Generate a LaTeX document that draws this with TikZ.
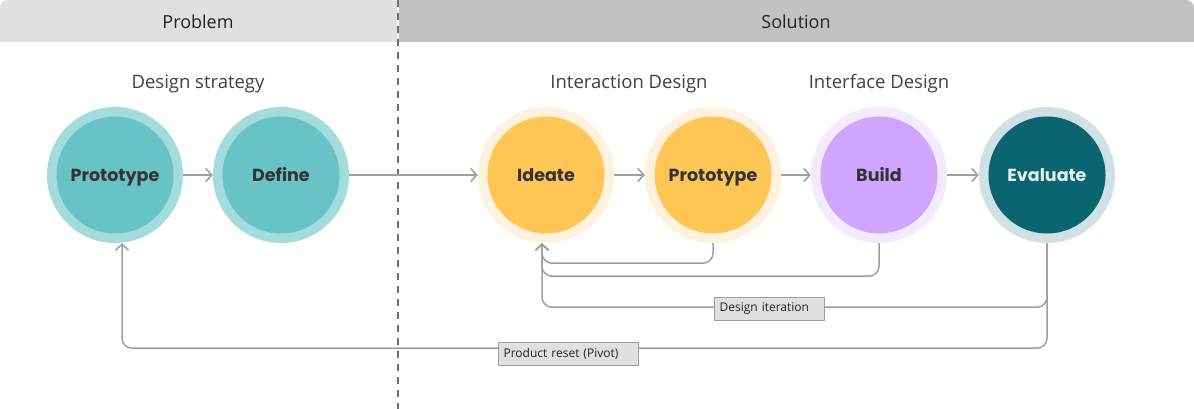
\documentclass[tikz,border=0pt]{standalone}
\usepackage{fontspec}
\setmainfont{Open Sans}
\newfontfamily\stagefont{Poppins}
\usetikzlibrary{arrows.meta}

\definecolor{problemgray}{HTML}{E0E0E0}
\definecolor{solutiongray}{HTML}{C2C2C2}
\definecolor{dividergray}{HTML}{6E6E6E}
\definecolor{headink}{HTML}{1F2328}
\definecolor{phaseink}{HTML}{404040}
\definecolor{stageink}{HTML}{333333}
\definecolor{paleink}{HTML}{E6EEEE}
\definecolor{tealouter}{HTML}{A2DCDD}
\definecolor{tealinner}{HTML}{68C3C7}
\definecolor{amberouter}{HTML}{FFF2DC}
\definecolor{amberinner}{HTML}{FFC555}
\definecolor{lilacouter}{HTML}{F3EAFF}
\definecolor{lilacinner}{HTML}{CFA6FF}
\definecolor{deepouter}{HTML}{CFE1E4}
\definecolor{deepinner}{HTML}{0A6570}
\definecolor{flowgray}{HTML}{9E9E9E}
\definecolor{tagfill}{HTML}{E0E0E0}

\begin{document}
\begin{tikzpicture}[x=1pt, y=-1pt,
	ring/.style={circle, minimum size=136pt, inner sep=0pt},
	core/.style={circle, minimum size=117pt, inner sep=0pt, text height=12.2pt, text depth=0pt, font=\stagefont\bfseries\fontsize{17.5}{20}\selectfont},
	header/.style={font=\fontsize{18}{21}\selectfont, text=headink, text height=12.9pt, text depth=0pt},
	phase/.style={font=\fontsize{18.5}{22}\selectfont, text=phaseink, text height=13.2pt, text depth=0pt},
	flow/.style={draw=flowgray, line width=1.5pt, -{Straight Barb[length=6pt, width=13pt]}},
	backflow/.style={flow, rounded corners=10pt},
	tag/.style={draw=flowgray, fill=tagfill, line width=1.2pt, font=\fontsize{12}{14}\selectfont, text=headink, align=left, inner xsep=5pt, minimum height=23pt, anchor=west}]
	\useasboundingbox (0,0) rectangle (1194,409);
	\fill[problemgray] (0,42) [rounded corners=8pt] -- (0,0) [sharp corners] -- (397,0) -- (397,42) -- cycle;
	\fill[solutiongray] (399,42) -- (399,0) [rounded corners=8pt] -- (1194,0) [sharp corners] -- (1194,42) -- cycle;
	\draw[dividergray, line width=2pt, dash pattern=on 7pt off 6pt] (398,0) -- (398,409);
	\node[header] (problem) at (198,22) {Problem};
	\node[header] (solution) at (796,22) {Solution};
	\node[phase] (strategy) at (198,82) {Design strategy};
	\node[phase] (interaction) at (629,82) {Interaction Design};
	\node[phase] (interface) at (879,82) {Interface Design};
	\foreach \id/\x/\outer/\inner/\ink/\txt in {proto1/115/tealouter/tealinner/stageink/Prototype, define/281/tealouter/tealinner/stageink/Define, ideate/546/amberouter/amberinner/stageink/Ideate, proto2/713/amberouter/amberinner/stageink/Prototype, build/879/lilacouter/lilacinner/stageink/Build, evaluate/1047/deepouter/deepinner/paleink/Evaluate}
	{
		\node[ring, fill=\outer] (\id) at (\x,175) {};
		\node[core, fill=\inner, text=\ink] (\id-core) at (\x,175) {\txt};
	}
	\draw[flow] (proto1) -- (define);
	\draw[flow] (define) -- (ideate);
	\draw[flow] (ideate) -- (proto2);
	\draw[flow] (proto2) -- (build);
	\draw[flow] (build) -- (evaluate);
	\draw[backflow] (proto2.south) -- ++(0,20) -| ([xshift=-4pt]ideate.south);
	\draw[backflow] (build.south) -- ++(0,33) -| ([xshift=-4pt]ideate.south);
	\draw[backflow] (evaluate.south) -- ++(0,64) -| ([xshift=-4pt]ideate.south);
	\draw[backflow] (evaluate.south) -- ++(0,105) -| ([xshift=7pt]proto1.south);
	\node[tag, text width=100pt] (iteration) at (714,309) {Design iteration};
	\node[tag, text width=130pt] (pivot) at (498,354) {Product reset (Pivot)};
\end{tikzpicture}
\end{document}
